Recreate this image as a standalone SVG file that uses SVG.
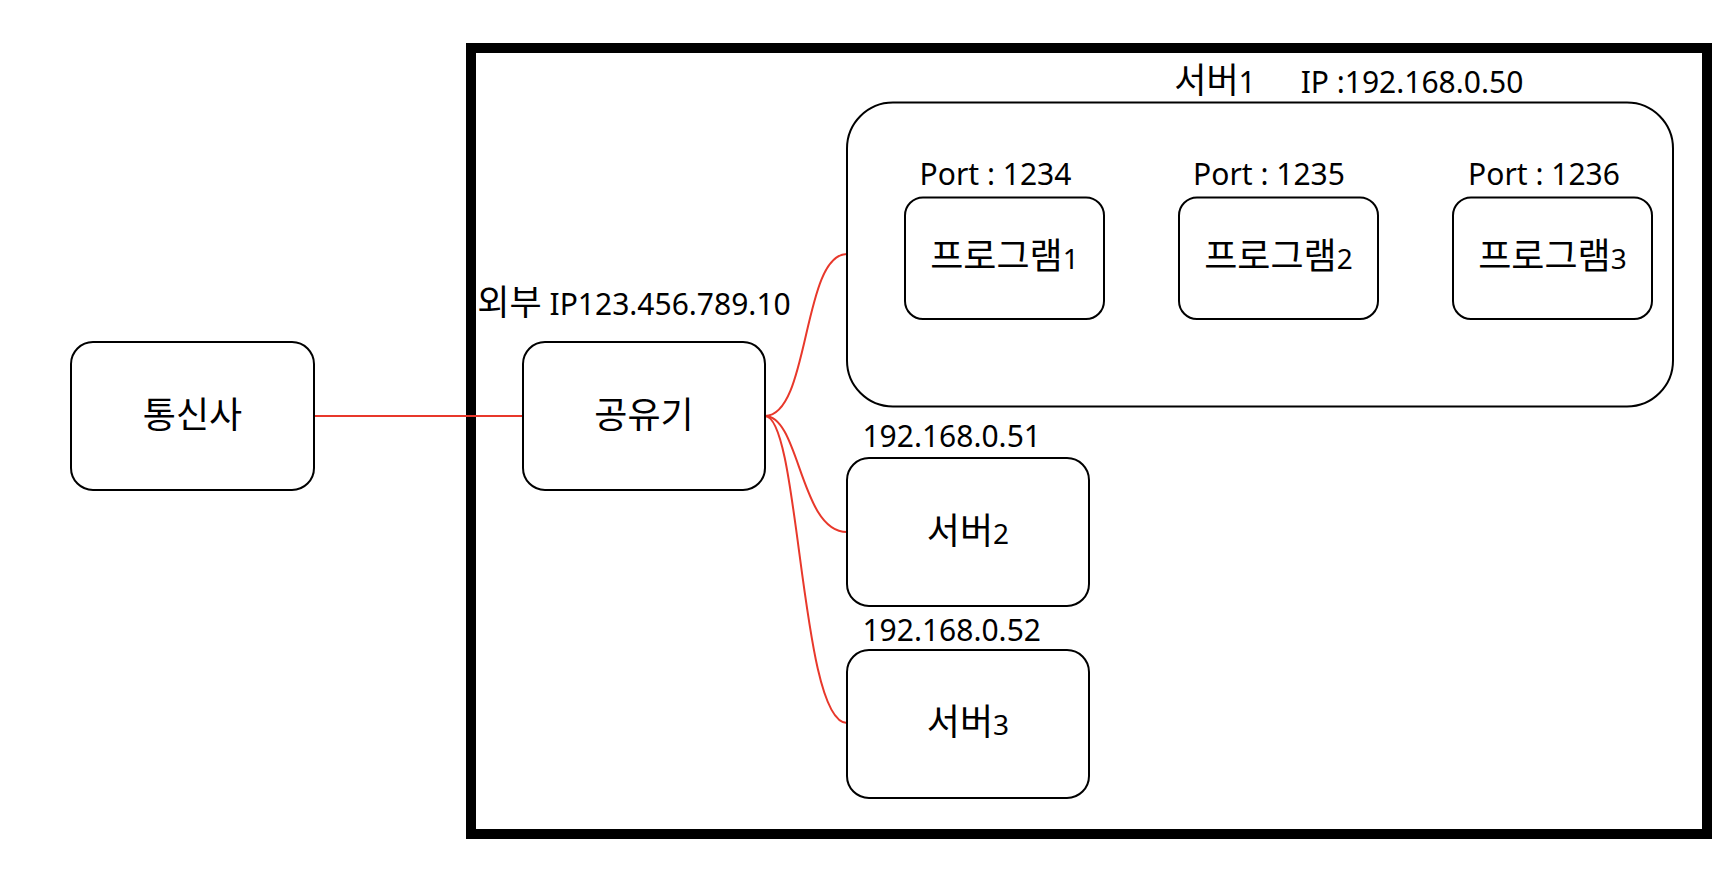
<svg xmlns="http://www.w3.org/2000/svg" width="1730" height="872" viewBox="0 0 1730 872">
<style>
.box{fill:#fff;stroke:#000;stroke-width:2}
.frame{fill:none;stroke:#000;stroke-width:10}
.wire{fill:none;stroke:#e8382b;stroke-width:2}
text{font-family:"Noto Sans","Noto Sans CJK KR",sans-serif;fill:#000}
.lbl{font-size:30px;text-anchor:middle}
.in{font-size:36px;text-anchor:middle}
.ko{font-family:"Noto Sans CJK KR",sans-serif}
.d{font-size:28px}
.k32{font-size:35px}
</style>
<rect width="1730" height="872" fill="#fff"/>
<g id="frame"><rect class="frame" x="471" y="48" width="1236" height="786"/></g>
<g id="connectors">
<path class="wire" d="M314,416 L523,416"/>
<path class="wire" d="M765,416 C810,416 802,254 847,254"/>
<path class="wire" d="M765,416 C800,416 800,532 847,532"/>
<path class="wire" d="M765,416 C800,416 800,723 847,723"/>
</g>
<g id="telecom"><rect class="box" x="71" y="342" width="243" height="148" rx="22"/><text class="in" x="192.5" y="428"><tspan class="ko">통신사</tspan></text></g>
<g id="router"><rect class="box" x="523" y="342" width="242" height="148" rx="22"/><text class="in" x="644" y="428"><tspan class="ko">공유기</tspan></text>
<text class="lbl" x="634" y="315"><tspan class="ko k32">외부</tspan> IP123.456.789.10</text></g>
<g id="server1"><rect class="box" x="847" y="102.5" width="826" height="304" rx="46"/>
<text class="lbl" x="1215" y="93"><tspan class="ko k32">서버</tspan>1</text>
<text class="lbl" x="1412" y="93">IP :192.168.0.50</text></g>
<g id="program1"><rect class="box" x="905" y="197.5" width="199" height="121.5" rx="18"/><text class="in" x="1004.5" y="269"><tspan class="ko">프로그램</tspan><tspan class="d">1</tspan></text><text class="lbl" x="995.5" y="185">Port : 1234</text></g>
<g id="program2"><rect class="box" x="1179" y="197.5" width="199" height="121.5" rx="18"/><text class="in" x="1278.5" y="269"><tspan class="ko">프로그램</tspan><tspan class="d">2</tspan></text><text class="lbl" x="1269" y="185">Port : 1235</text></g>
<g id="program3"><rect class="box" x="1453" y="197.5" width="199" height="121.5" rx="18"/><text class="in" x="1552.5" y="269"><tspan class="ko">프로그램</tspan><tspan class="d">3</tspan></text><text class="lbl" x="1544" y="185">Port : 1236</text></g>
<g id="server2"><rect class="box" x="847" y="458" width="242" height="148" rx="22"/><text class="in" x="968" y="544"><tspan class="ko">서버</tspan><tspan class="d">2</tspan></text><text class="lbl" x="951.7" y="446.5">192.168.0.51</text></g>
<g id="server3"><rect class="box" x="847" y="650" width="242" height="148" rx="22"/><text class="in" x="968" y="735"><tspan class="ko">서버</tspan><tspan class="d">3</tspan></text><text class="lbl" x="951.7" y="641">192.168.0.52</text></g>
</svg>
